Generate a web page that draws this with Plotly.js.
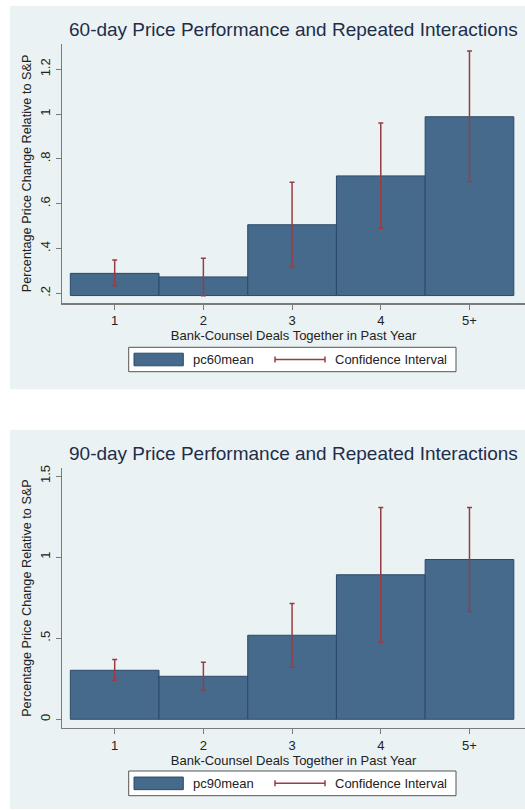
<!DOCTYPE html>
<html>
<head>
<meta charset="utf-8">
<script src="https://cdn.plot.ly/plotly-3.0.1.min.js"></script>
<style>html,body{margin:0;padding:0;background:#fff;}#chart{width:525px;height:810px;}</style>
</head>
<body>
<div id="chart"></div>
<script>
// ---- data ----
const categories = ['1', '2', '3', '4', '5+'];
const pc60mean = [0.289, 0.273, 0.506, 0.724, 0.988];
const ci60Low  = [0.234, 0.189, 0.319, 0.490, 0.698];
const ci60High = [0.349, 0.356, 0.696, 0.960, 1.282];
const pc90mean = [0.302, 0.265, 0.518, 0.891, 0.985];
const ci90Low  = [0.241, 0.177, 0.321, 0.475, 0.664];
const ci90High = [0.368, 0.352, 0.714, 1.306, 1.306];
const yTicks60 = [0.2, 0.4, 0.6, 0.8, 1, 1.2];
const yTickText60 = ['.2', '.4', '.6', '.8', '1', '1.2'];
const yTicks90 = [0, 0.5, 1, 1.5];
const yTickText90 = ['0', '.5', '1', '1.5'];
const titles = ['60-day Price Performance and Repeated Interactions', '90-day Price Performance and Repeated Interactions'];
const legendNames = ['pc60mean', 'pc90mean'];
const ciName = 'Confidence Interval';
const xTitle = 'Bank-Counsel Deals Together in Past Year';
const yTitle = 'Percentage Price Change Relative to S&P';

// ---- styles ----
const W = 525, H = 810;
const FONT = 'Liberation Sans, Arial, sans-serif';
const BAR = '#466a8b', BAR_LINE = '#2c4a68', CI = '#993d44';
const BG = '#eaf2f3', AXIS = '#7a7a7a', TITLE = '#1e2d4b', TXT = '#222';
const px = x => x / W, py = y => 1 - y / H;

function panelTraces(mean, lo, hi, xa, ya, base) {
  return [
    {type: 'bar', x: categories, y: mean.map((v) => v - base), base: base, width: 1,
     xaxis: xa, yaxis: ya, marker: {color: BAR, line: {color: BAR_LINE, width: 1}},
     showlegend: false, hoverinfo: 'skip'},
    {type: 'scatter', mode: 'markers', x: categories, y: mean, xaxis: xa, yaxis: ya,
     marker: {size: 1, opacity: 0}, showlegend: false, hoverinfo: 'skip',
     error_y: {type: 'data', symmetric: false,
       array: hi.map((h, i) => h - mean[i]), arrayminus: lo.map((l, i) => mean[i] - l),
       color: CI, thickness: 1.5, width: 2.5}}
  ];
}

const traces = [
  ...panelTraces(pc60mean, ci60Low, ci60High, 'x', 'y', 0.19),
  ...panelTraces(pc90mean, ci90Low, ci90High, 'x2', 'y2', 0)
];

function xAxis(domainY) {
  return {domain: [px(62), 1], type: 'category', range: [-0.594, 4.626], fixedrange: true,
    showline: true, linecolor: AXIS, linewidth: 1.5, ticks: 'outside', ticklen: 5, tickcolor: AXIS,
    showgrid: false, zeroline: false, tickfont: {family: FONT, size: 13, color: TXT},
    title: {text: xTitle, font: {family: FONT, size: 13, color: TXT}, standoff: 0}};
}
function yAxis(domain, range, vals, text) {
  return {domain: domain, range: range, fixedrange: true, tickvals: vals, ticktext: text,
    tickangle: -90, showline: true, linecolor: AXIS, linewidth: 1.5, ticks: 'outside', ticklen: 5,
    tickcolor: AXIS, showgrid: true, gridcolor: BG, gridwidth: 1, zeroline: false,
    tickfont: {family: FONT, size: 13, color: TXT},
    title: {text: yTitle, font: {family: FONT, size: 12.7, color: TXT}, standoff: 4}};
}

const shapes = [];
const annotations = [];
function panelDecor(top, bot, plotTop, titleY, legTop, legBot, name) {
  shapes.push({type: 'rect', xref: 'paper', yref: 'paper', layer: 'below',
    x0: px(10), x1: 1, y0: py(bot), y1: py(top), fillcolor: BG, line: {width: 0}});
  annotations.push({xref: 'paper', yref: 'paper', x: px(293), y: py(titleY), text: titles[name === legendNames[0] ? 0 : 1],
    showarrow: false, xanchor: 'center', yanchor: 'middle', font: {family: FONT, size: 19, color: TITLE}});
  // legend box
  shapes.push({type: 'rect', xref: 'paper', yref: 'paper', x0: px(128.7), x1: px(456), y0: py(legBot), y1: py(legTop),
    fillcolor: '#ffffff', line: {color: '#555', width: 1}});
  const cy = (legTop + legBot) / 2;
  shapes.push({type: 'rect', xref: 'paper', yref: 'paper', x0: px(134), x1: px(183.3), y0: py(cy + 6.3), y1: py(cy - 6.3),
    fillcolor: BAR, line: {color: BAR_LINE, width: 1}});
  shapes.push({type: 'line', xref: 'paper', yref: 'paper', x0: px(275), x1: px(325), y0: py(cy), y1: py(cy), line: {color: CI, width: 1.5}});
  shapes.push({type: 'line', xref: 'paper', yref: 'paper', x0: px(275), x1: px(275), y0: py(cy - 3), y1: py(cy + 3), line: {color: CI, width: 1.5}});
  shapes.push({type: 'line', xref: 'paper', yref: 'paper', x0: px(325), x1: px(325), y0: py(cy - 3), y1: py(cy + 3), line: {color: CI, width: 1.5}});
  annotations.push({xref: 'paper', yref: 'paper', x: px(191), y: py(cy), text: name, showarrow: false,
    xanchor: 'left', yanchor: 'middle', font: {family: FONT, size: 13, color: TXT}});
  annotations.push({xref: 'paper', yref: 'paper', x: px(333), y: py(cy), text: ciName, showarrow: false,
    xanchor: 'left', yanchor: 'middle', font: {family: FONT, size: 13, color: TXT}});
}
panelDecor(6, 389.3, 43.5, 30, 347.3, 371.7, legendNames[0]);
panelDecor(430, 809, 468.3, 454, 771, 795.7, legendNames[1]);

const layout = {
  width: W, height: H, margin: {l: 0, r: 0, t: 0, b: 0}, autosize: false,
  paper_bgcolor: '#ffffff', plot_bgcolor: '#ffffff', showlegend: false, bargap: 0,
  font: {family: FONT, color: TXT},
  xaxis: Object.assign(xAxis(), {anchor: 'y'}),
  yaxis: Object.assign(yAxis([py(303.3), py(43.5)], [0.1554, 1.315], yTicks60, yTickText60), {anchor: 'x'}),
  xaxis2: Object.assign(xAxis(), {anchor: 'y2'}),
  yaxis2: Object.assign(yAxis([py(727.7), py(468.3)], [-0.052, 1.5475], yTicks90, yTickText90), {anchor: 'x2'}),
  shapes: shapes, annotations: annotations
};

Plotly.newPlot('chart', traces, layout, {staticPlot: true, displayModeBar: false});
</script>
</body>
</html>
